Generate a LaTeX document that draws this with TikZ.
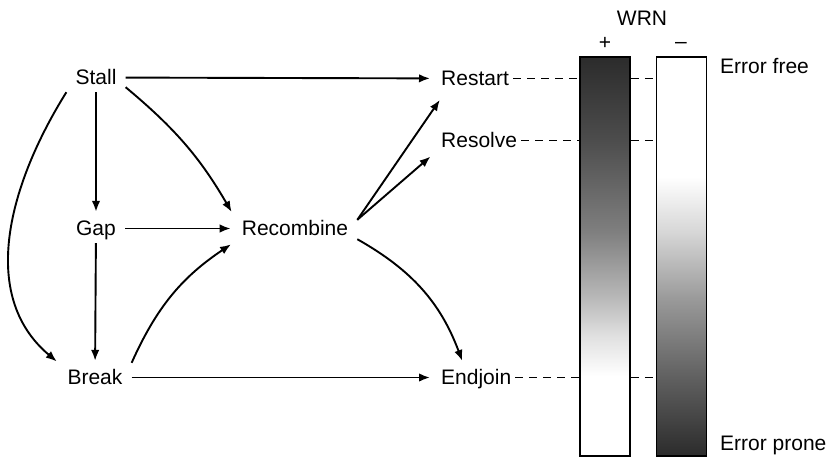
\documentclass[tikz,border=0pt]{standalone}
\usepackage{fontspec}
\setmainfont{Liberation Sans}
\usetikzlibrary{arrows.meta}
\definecolor{bar-dark}{gray}{0.17}
\pgfdeclareverticalshading{wrn-plus}{100bp}{color(0bp)=(white); color(35bp)=(white); color(40bp)=(black!12); color(44.6bp)=(black!27); color(53bp)=(black!50); color(64.6bp)=(black!70); color(75bp)=(bar-dark); color(100bp)=(bar-dark)}
\pgfdeclareverticalshading{wrn-minus}{100bp}{color(0bp)=(bar-dark); color(25bp)=(bar-dark); color(35bp)=(black!62); color(44.6bp)=(black!40); color(53bp)=(black!16); color(60bp)=(white); color(100bp)=(white)}

\begin{document}
\begin{tikzpicture}[x=1pt,y=1pt,font=\fontsize{21}{25}\selectfont,
		word/.style={inner xsep=9pt,inner ysep=6pt,text height=15pt,text depth=2pt},
		link/.style={-{Latex[length=11pt,width=8.5pt]},line width=1.9pt,shorten >=2pt},
		bar/.style={draw=black,line width=1.8pt,minimum width=50pt,minimum height=399pt,inner sep=0pt},
		dashedline/.style={line width=1.9pt,dash pattern=on 8pt off 6pt}]
			\useasboundingbox (0,0) rectangle (835,-459);							% page
			\node[word,anchor=base] (stall) at (96,-84) {Stall};						% left column
			\node[word,anchor=base] (gap) at (96,-235) {Gap};
			\node[word,anchor=base] (brk) at (95,-384) {Break};
			\node[word,anchor=base] (rec) at (295,-235) {Recombine};					% middle
			\node[word,anchor=base west] (restart) at (432,-85) {Restart};				% outcomes
			\node[word,anchor=base west] (resolve) at (432,-147) {Resolve};
			\node[word,anchor=base west] (endjoin) at (432,-384) {Endjoin};
			\draw[link] (stall) -- (restart);
			\draw[link] (stall) -- (gap);
			\draw[link] (gap) -- (rec);
			\draw[link] (gap) -- (brk);
			\draw[link] (brk) -- (endjoin);
			\draw[link] ([yshift=5pt]stall.south east) to[bend left=10] (rec.north west);
			\draw[link] (stall.south west) to[out=238,in=140] (brk.north west);
			\draw[link] (brk.north east) to[bend left=16] (rec.south west);
			\draw[link] ([yshift=-6pt]rec.north east) -- ([shift={(9pt,-5pt)}]restart.south west);
			\draw[link] ([yshift=-6pt]rec.north east) -- (resolve.south west);
			\draw[link] ([yshift=4pt]rec.south east) to[bend left=20] ([xshift=31pt]endjoin.north west);
			\node[bar,shading=wrn-plus] (plus) at (605,-256.5) {};						% WRN bars
			\node[bar,shading=wrn-minus] (minus) at (681.5,-256.5) {};
			\node[anchor=base] (wrn) at (642,-25) {WRN};
			\node (pluslbl) at (605,-43) {+};
			\node (minuslbl) at (681,-45) {--};
			\node[word,anchor=base west] (free) at (711,-73) {Error free};
			\node[word,anchor=base west] (prone) at (711,-450) {Error prone};
			\foreach \n in {restart,resolve,endjoin}{								% dashed levels
				\draw[dashedline] ([xshift=-5pt]\n.east) -- (\n.east -| plus.west);
				\draw[dashedline] (\n.east -| plus.east) -- (\n.east -| minus.west);
			}
		\end{tikzpicture}
\end{document}
